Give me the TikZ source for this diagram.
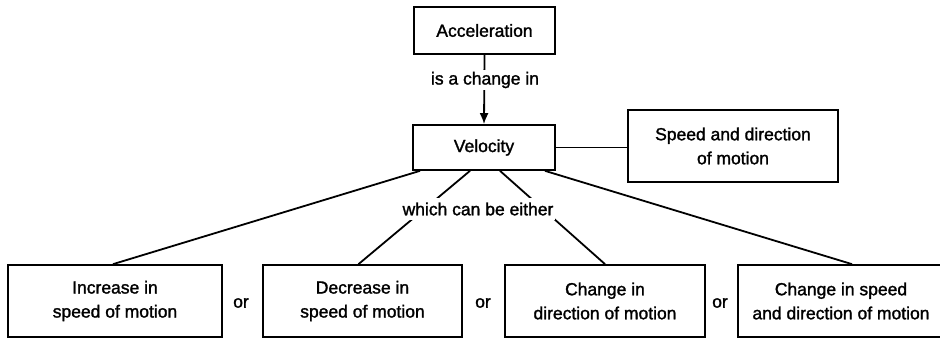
\documentclass[tikz,border=0pt]{standalone}
\usepackage{fontspec}
\setmainfont{Liberation Sans}[FakeBold=1.5]
\usetikzlibrary{arrows.meta}
\begin{document}
\begin{tikzpicture}[x=1pt,y=-1pt,
  box/.style={draw,line width=1.7pt,inner sep=0pt,align=center,font=\fontsize{17.5}{24}\selectfont},
  lbl/.style={fill=white,inner sep=2pt,font=\fontsize{17.5}{20}\selectfont},
  conn/.style={line width=1.8pt}]
\useasboundingbox (0,0) rectangle (940,339);
\node[box,minimum width=141pt,minimum height=47pt] (acc) at (484.5,30.5) {Acceleration};
\node[box,minimum width=142pt,minimum height=45pt] (vel) at (484,147.5) {Velocity};
\node[box,minimum width=210pt,minimum height=72pt] (spd) at (733,146) {Speed and direction\\of motion};
\node[box,minimum width=214pt,minimum height=72pt] (b1) at (115,301) {Increase in\\speed of motion};
\node[box,minimum width=199pt,minimum height=72pt] (b2) at (362.5,301) {Decrease in\\speed of motion};
\node[box,minimum width=200pt,minimum height=72pt] (b3) at (605,301) {Change in\\direction of motion};
\node[box,minimum width=206pt,minimum height=72pt] (b4) at (841,301) {Change in speed\\and direction of motion};
\draw[conn,-{Latex[length=11pt,width=9pt]}] (acc.south) -- (vel.north);
\draw[conn] (vel.east) -- (vel.east -| spd.west);
\draw[conn] ([xshift=-64pt]vel.south) -- ([xshift=-2pt]b1.north);
\draw[conn] ([xshift=-14pt]vel.south) -- ([xshift=-4pt]b2.north);
\draw[conn] ([xshift=16pt]vel.south) -- (b3.north);
\draw[conn] ([xshift=61pt]vel.south) -- ([xshift=11pt]b4.north);
\node[lbl] (l1) at (485,80) {is a change in};
\node[lbl,inner ysep=5pt] (l2) at (478,209) {which can be either};
\node[lbl,fill=none] (o1) at (241,303) {or};
\node[lbl,fill=none] (o2) at (483,303) {or};
\node[lbl,fill=none] (o3) at (720,303) {or};
\end{tikzpicture}
\end{document}
